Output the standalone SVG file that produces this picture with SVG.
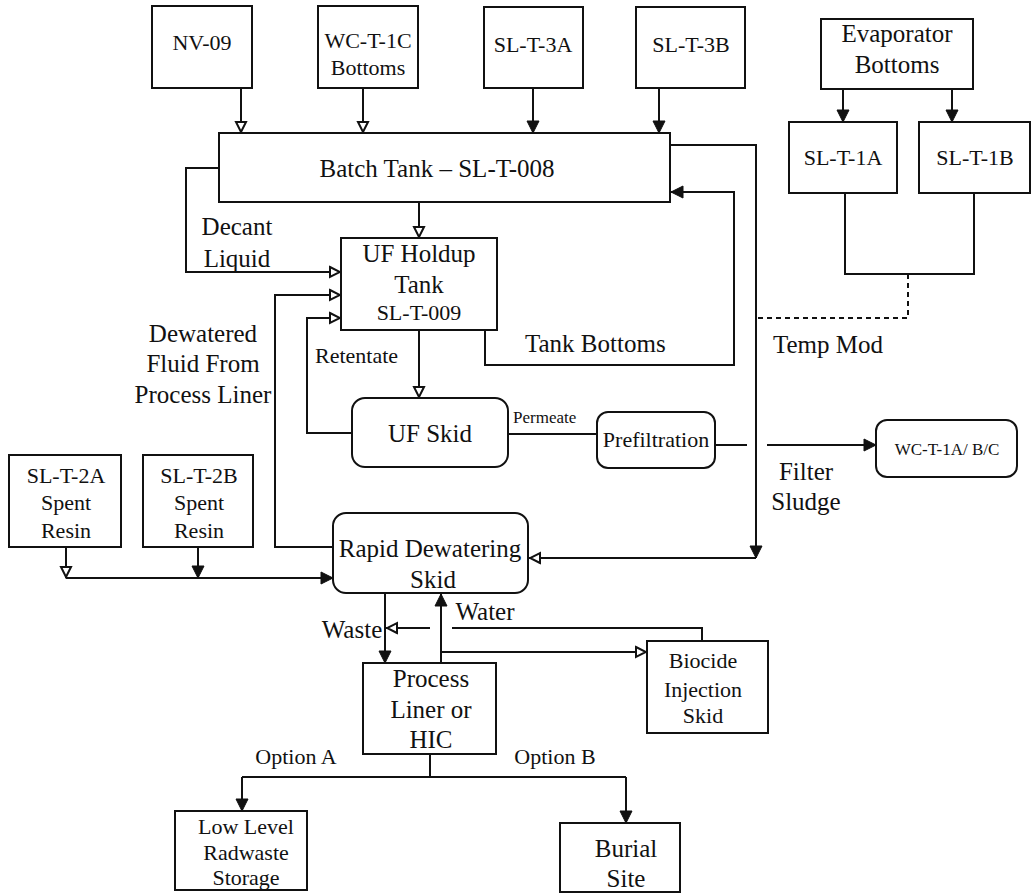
<svg xmlns="http://www.w3.org/2000/svg" width="1032" height="893" viewBox="0 0 1032 893">
<style>
.b{fill:#fff;stroke:#111;stroke-width:2}
.c{fill:none;stroke:#111;stroke-width:2}
.d{fill:none;stroke:#111;stroke-width:2;stroke-dasharray:5 4}
text{font-family:"Liberation Serif","Times New Roman",serif;fill:#111;text-anchor:middle}
.L{font-size:25px}
.M{font-size:22px}
.S{font-size:17px}
.st{text-anchor:start}
</style>
<defs>
<marker id="af" markerUnits="userSpaceOnUse" markerWidth="14" markerHeight="14" viewBox="0 0 14 14" refX="13" refY="7" orient="auto"><path d="M1,1 L13,7 L1,13 z" fill="#111" stroke="#111" stroke-width="1"/></marker>
<marker id="ah" markerUnits="userSpaceOnUse" markerWidth="14" markerHeight="14" viewBox="0 0 14 14" refX="13" refY="7" orient="auto"><path d="M2,2 L12,7 L2,12 z" fill="#fff" stroke="#111" stroke-width="2"/></marker>
</defs>
<rect width="1032" height="893" fill="#fff"/>
<g id="connectors">
<path class="c" d="M241,88 V133" marker-end="url(#ah)"/>
<path class="c" d="M363,88 V133" marker-end="url(#ah)"/>
<path class="c" d="M533,88 V133" marker-end="url(#af)"/>
<path class="c" d="M659,88 V133" marker-end="url(#af)"/>
<path class="c" d="M843,89 V122" marker-end="url(#af)"/>
<path class="c" d="M952,89 V122" marker-end="url(#af)"/>
<path class="c" d="M845,193 V274 H974 V193"/>
<path class="d" d="M908,274 V318 H756"/>
<path class="c" d="M670,145 H756 V558" marker-end="url(#af)"/>
<path class="c" d="M756,558 H529" marker-end="url(#ah)"/>
<path class="c" d="M485,330 V365 H734 V192 H671" marker-end="url(#af)"/>
<path class="c" d="M419,202 V238" marker-end="url(#ah)"/>
<path class="c" d="M219,168 H186 V272 H341" marker-end="url(#ah)"/>
<path class="c" d="M333,547 H275 V295 H341" marker-end="url(#ah)"/>
<path class="c" d="M352,433 H307 V318 H341" marker-end="url(#ah)"/>
<path class="c" d="M419,330 V398" marker-end="url(#ah)"/>
<path class="c" d="M508,434 H597"/>
<path class="c" d="M715,445 H747"/>
<path class="c" d="M767,445 H876" marker-end="url(#af)"/>
<path class="c" d="M66,547 V578" marker-end="url(#ah)"/>
<path class="c" d="M66,578 H333" marker-end="url(#af)"/>
<path class="c" d="M198,547 V578" marker-end="url(#af)"/>
<path class="c" d="M385,593 V663" marker-end="url(#af)"/>
<path class="c" d="M441,663 V594" marker-end="url(#af)"/>
<path class="c" d="M702,641 V628 H452"/>
<path class="c" d="M430,628 H386" marker-end="url(#ah)"/>
<path class="c" d="M441,652 H647" marker-end="url(#ah)"/>
<path class="c" d="M430,754 V777"/>
<path class="c" d="M242,777 H626"/>
<path class="c" d="M242,777 V811" marker-end="url(#af)"/>
<path class="c" d="M626,777 V823" marker-end="url(#af)"/>
<text class="L" x="237" y="235">Decant</text>
<text class="L" x="237" y="267">Liquid</text>
<text class="L" x="203" y="342">Dewatered</text>
<text class="L" x="203" y="372">Fluid From</text>
<text class="L" x="203" y="403">Process Liner</text>
<text class="M st" x="315" y="363">Retentate</text>
<text class="L st" x="525" y="352">Tank Bottoms</text>
<text class="L st" x="773" y="353">Temp Mod</text>
<text class="S st" x="513" y="423">Permeate</text>
<text class="L" x="806" y="480">Filter</text>
<text class="L" x="806" y="510">Sludge</text>
<text class="L" x="352" y="638">Waste</text>
<text class="L" x="485" y="620">Water</text>
<text class="M" x="296" y="764">Option A</text>
<text class="M" x="555" y="764">Option B</text>
</g>
<g id="nv09"><rect class="b" x="152" y="6" width="100" height="82"/><text class="M" x="202" y="50">NV-09</text></g>
<g id="wct1c"><rect class="b" x="318" y="6" width="100" height="82"/><text class="M" x="368" y="48">WC-T-1C</text><text class="M" x="368" y="75">Bottoms</text></g>
<g id="slt3a"><rect class="b" x="484" y="7" width="99" height="81"/><text class="M" x="533" y="52">SL-T-3A</text></g>
<g id="slt3b"><rect class="b" x="636" y="7" width="109" height="81"/><text class="M" x="691" y="52">SL-T-3B</text></g>
<g id="evap"><rect class="b" x="821" y="19" width="152" height="70"/><text class="L" x="897" y="42">Evaporator</text><text class="L" x="897" y="73">Bottoms</text></g>
<g id="slt1a"><rect class="b" x="789" y="122" width="108" height="71"/><text class="M" x="843" y="165">SL-T-1A</text></g>
<g id="slt1b"><rect class="b" x="919" y="122" width="111" height="71"/><text class="M" x="975" y="165">SL-T-1B</text></g>
<g id="batch"><rect class="b" x="219" y="133" width="451" height="69"/><text class="L" x="437" y="177">Batch Tank – SL-T-008</text></g>
<g id="ufholdup"><rect class="b" x="341" y="238" width="156" height="92"/><text class="L" x="419" y="262">UF Holdup</text><text class="L" x="419" y="293">Tank</text><text class="M" x="419" y="320">SL-T-009</text></g>
<g id="ufskid"><rect class="b" x="352" y="398" width="156" height="69" rx="13"/><text class="L" x="430" y="442">UF Skid</text></g>
<g id="prefilt"><rect class="b" x="597" y="412" width="118" height="56" rx="11"/><text class="M" x="656" y="447">Prefiltration</text></g>
<g id="wct1abc"><rect class="b" x="876" y="420" width="141" height="57" rx="11"/><text class="S" x="947" y="455">WC-T-1A/ B/C</text></g>
<g id="slt2a"><rect class="b" x="9" y="455" width="112" height="92"/><text class="M" x="66" y="483">SL-T-2A</text><text class="M" x="66" y="510">Spent</text><text class="M" x="66" y="538">Resin</text></g>
<g id="slt2b"><rect class="b" x="143" y="455" width="110" height="92"/><text class="M" x="199" y="483">SL-T-2B</text><text class="M" x="199" y="510">Spent</text><text class="M" x="199" y="538">Resin</text></g>
<g id="rds"><rect class="b" x="333" y="513" width="195" height="80" rx="13"/><text class="L" x="430" y="557">Rapid Dewatering</text><text class="L" x="433" y="588">Skid</text></g>
<g id="liner"><rect class="b" x="363" y="663" width="133" height="91"/><text class="L" x="431" y="687">Process</text><text class="L" x="431" y="718">Liner or</text><text class="L" x="431" y="748">HIC</text></g>
<g id="biocide"><rect class="b" x="647" y="641" width="121" height="92"/><text class="M" x="703" y="668">Biocide</text><text class="M" x="703" y="697">Injection</text><text class="M" x="703" y="723">Skid</text></g>
<g id="lowlevel"><rect class="b" x="175" y="811" width="132" height="79"/><text class="M" x="246" y="834">Low Level</text><text class="M" x="246" y="860">Radwaste</text><text class="M" x="246" y="885">Storage</text></g>
<g id="burial"><rect class="b" x="560" y="823" width="120" height="69"/><text class="L" x="626" y="857">Burial</text><text class="L" x="626" y="887">Site</text></g>
</svg>
